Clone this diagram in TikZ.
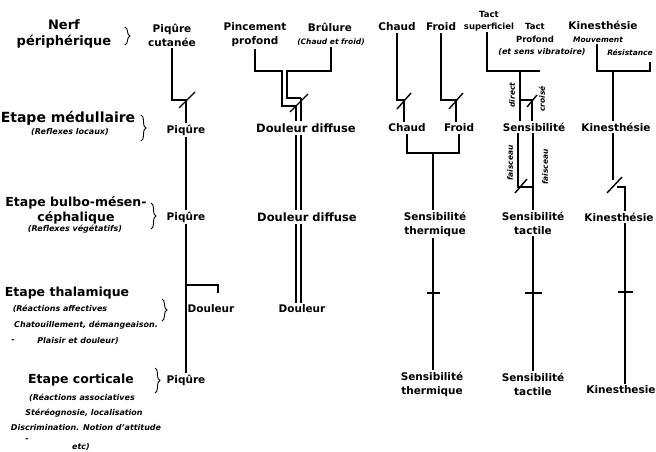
\documentclass[tikz,border=0pt]{standalone}
\usepackage{fontspec}
\setmainfont{DejaVu Sans}[ItalicFont={DejaVu Sans Oblique},BoldItalicFont={DejaVu Sans Bold Oblique}]
\usepackage{tikz}
\usetikzlibrary{decorations.pathreplacing}

\begin{document}
\begin{tikzpicture}[x=1pt,y=-1pt,
    lbl/.style={font=\fontsize{10.5}{14}\selectfont\bfseries, align=center, inner sep=2pt},
    etape/.style={font=\fontsize{12.5}{15}\selectfont\bfseries, align=center, inner sep=1pt},
    petit/.style={font=\fontsize{8.5}{12.5}\selectfont\bfseries, align=center, inner sep=1pt},
    note/.style={font=\fontsize{8}{10}\selectfont\bfseries\itshape, inner sep=1pt},
    mini/.style={font=\fontsize{7.5}{9}\selectfont\bfseries\itshape, inner sep=1pt},
    rot/.style={mini, rotate=90},
    fibre/.style={line width=1.8pt},
    relai/.style={line width=1.4pt},
    acc/.style={decorate, decoration={brace, amplitude=5pt}, line width=0.9pt}]
    \useasboundingbox (0,0) rectangle (656,452);

    % Nerf peripherique
    \node[etape, font=\fontsize{13}{16}\selectfont\bfseries] (nerf) at (64,34) {Nerf\\périphérique};
    \node[lbl] (pc) at (172,35) {Piqûre\\cutanée};
    \node[lbl] (pin) at (255,35) {Pincement\\profond};
    \node[lbl] (bru) at (330,27) {Brûlure};
    \node[mini] (bruN) at (331,42) {(Chaud et froid)};
    \node[lbl] (chaud) at (397,27) {Chaud};
    \node[lbl] (froid) at (441,27) {Froid};
    \node[petit, font=\fontsize{8.5}{12}\selectfont\bfseries] (tsup) at (489,21) {Tact\\superficiel};
    \node[petit] (tpro) at (535,33) {Tact\\Profond};
    \node[note] (tproN) at (542,52) {(et sens vibratoire)};
    \node[lbl] (kin1) at (603,25) {Kinesthésie};
    \node[mini] (mouv) at (598,40) {Mouvement};
    \node[mini] (resi) at (630,53) {Résistance};

    % Etape medullaire
    \node[etape, font=\fontsize{14}{16}\selectfont\bfseries] (med) at (68,118) {Etape médullaire};
    \node[note] (medN) at (70,132) {(Reflexes locaux)};
    \node[lbl] (pq2) at (186,130) {Piqûre};
    \node[lbl, font=\fontsize{11.5}{14}\selectfont\bfseries] (dd2) at (306,128) {Douleur diffuse};
    \node[lbl] (ch2) at (407,128) {Chaud};
    \node[lbl] (fr2) at (459,128) {Froid};
    \node[lbl] (st2) at (534,127) {Sensibilité};
    \node[lbl] (kn2) at (616,127) {Kinesthésie};

    % Etape bulbo-mesencephalique
    \node[etape] (bul) at (76,210) {Etape bulbo-mésen-\\céphalique};
    \node[note] (bulN) at (75,229) {(Reflexes végétatifs)};
    \node[lbl] (pq3) at (186,217) {Piqûre};
    \node[lbl, font=\fontsize{11.5}{14}\selectfont\bfseries] (dd3) at (307,217) {Douleur diffuse};
    \node[lbl] (th3) at (435,224) {Sensibilité\\thermique};
    \node[lbl] (ta3) at (533,223) {Sensibilité\\tactile};
    \node[lbl] (kn3) at (619,217) {Kinesthésie};

    % Etape thalamique
    \node[etape] (tha) at (67,293) {Etape thalamique};
    \node[note] (thaN) at (60,309) {(Réactions affectives};
    \node[note] (thaN2) at (86,325) {Chatouillement, démangeaison.};
    \node[note] (tiret1) at (13,341) {-};
    \node[note] (thaN3) at (78,341) {Plaisir et douleur)};
    \node[lbl] (dl4) at (211,309) {Douleur};
    \node[lbl] (dl4b) at (302,309) {Douleur};

    % Etape corticale
    \node[etape] (cor) at (81,380) {Etape corticale};
    \node[lbl] (pq5) at (186,380) {Piqûre};
    \node[note] (corN) at (82,398) {(Réactions associatives};
    \node[note] (corN2) at (84,413) {Stéréognosie, localisation};
    \node[note] (corN3) at (86,428) {Discrimination. Notion d'attitude};
    \node[note, inner sep=0pt] (tiret2) at (27,440) {-};
    \node[note] (corN4) at (81,447) {etc)};
    \node[lbl] (th5) at (432,384) {Sensibilité\\thermique};
    \node[lbl] (ta5) at (533,384) {Sensibilité\\tactile};
    \node[lbl] (kn5) at (621,390) {Kinesthesie};

    % Accolades
    \draw[acc] (125,27) -- (125,45);
    \draw[acc] (141,115) -- (141,141);
    \draw[acc] (151,203) -- (151,229);
    \draw[acc] (162,299) -- (162,321);
    \draw[acc] (155,368) -- (155,393);

    % Piqure
    \coordinate (sP) at (186,100);
    \draw[fibre] (pc.south) |- (sP) -- (pq2.north);
    \draw[relai] (sP) ++(-7,8) -- ++(16,-16);
    \draw[fibre] (pq2.south) -- (pq3.north);
    \draw[fibre] (pq3.south) -- (pq5.north);
    \coordinate (bD) at (186,285);
    \coordinate (bDe) at (218,293);
    \draw[fibre] (bD) -| (bDe);

    % Pincement et brulure
    \coordinate (dA) at (296,106);
    \coordinate (dB) at (301,98);
    \coordinate (sD) at (299,103);
    \draw[fibre] (pin.south) |- (282,71) |- (dA);
    \draw[fibre] (bruN.south) |- (287,71) |- (dB);
    \draw[relai] (sD) ++(-9,9) -- ++(18,-18);
    \foreach \c in {dA,dB} {
        \draw[relai] (\c) -- (\c |- dd2.north);
        \draw[relai] (\c |- dd2.south) -- (\c |- dd3.north);
        \draw[relai] (\c |- dd3.south) -- (\c |- dl4b.north);
    }

    % Chaud et froid
    \coordinate (sC) at (404,100);
    \draw[fibre] (chaud.south) |- (sC) -- (sC |- ch2.north);
    \draw[relai] (sC) ++(-7,9) -- ++(14,-16);
    \coordinate (sF) at (456,100);
    \draw[fibre] (froid.south) |- (sF) -- (sF |- fr2.north);
    \draw[relai] (sF) ++(-7,9) -- ++(14,-16);
    \coordinate (tJ) at (433,153);
    \draw[fibre] (ch2.south) |- (tJ) -| (fr2.south);
    \draw[fibre] (tJ) -- (tJ |- th3.north);
    \draw[fibre] (th3.south -| tJ) -- (th5.north -| tJ);
    \draw[relai] (427,293) -- (440,293);

    % Tact
    \coordinate (tX) at (487,71);
    \coordinate (tE) at (540,71);
    \coordinate (tD) at (520,71);
    \coordinate (tC) at (532,100);
    \draw[fibre] (tsup.south -| tX) -- (tX) -- (tE);
    \draw[fibre] (tD) -- (tD |- st2.north);
    \draw[fibre] (tD |- tC) -- (tC) -- (tC |- st2.north);
    \draw[relai] (tC) ++(-5,7) -- ++(10,-12);
    \node[rot] (dir) at (512,95) {direct};
    \node[rot] (cro) at (542,99) {croisé};
    \coordinate (fG) at (518,187);
    \coordinate (fD) at (533,187);
    \draw[fibre] (st2.south -| fG) -- (fG) -- (fD);
    \draw[fibre] (st2.south -| fD) -- (ta3.north -| fD);
    \draw[relai] (fG) ++(-3,6) -- ++(12,-14);
    \node[rot] (fa1) at (510,163) {faisceau};
    \node[rot] (fa2) at (545,167) {faisceau};
    \draw[fibre] (ta3.south) -- (ta5.north);
    \draw[relai] (525,293) -- (542,293);

    % Kinesthesie
    \coordinate (kB) at (597,71);
    \coordinate (kD) at (650,62);
    \coordinate (kJ) at (613,71);
    \draw[fibre] (mouv.south -| kB) -- (kB) -| (kD);
    \draw[fibre] (kJ) -- (kJ |- kn2.north);
    \coordinate (kS) at (613,180);
    \coordinate (kQ) at (617,187);
    \coordinate (kR) at (625,187);
    \draw[fibre] (kn2.south -| kS) -- (kS);
    \draw[fibre] (kQ) -- (kR) -- (kR |- kn3.north);
    \draw[relai] (kS) ++(-6,13) -- ++(15,-16);
    \draw[fibre] (kn3.south -| kR) -- (kn5.north -| kR);
    \draw[relai] (618,292) -- (633,292);
\end{tikzpicture}
\end{document}
